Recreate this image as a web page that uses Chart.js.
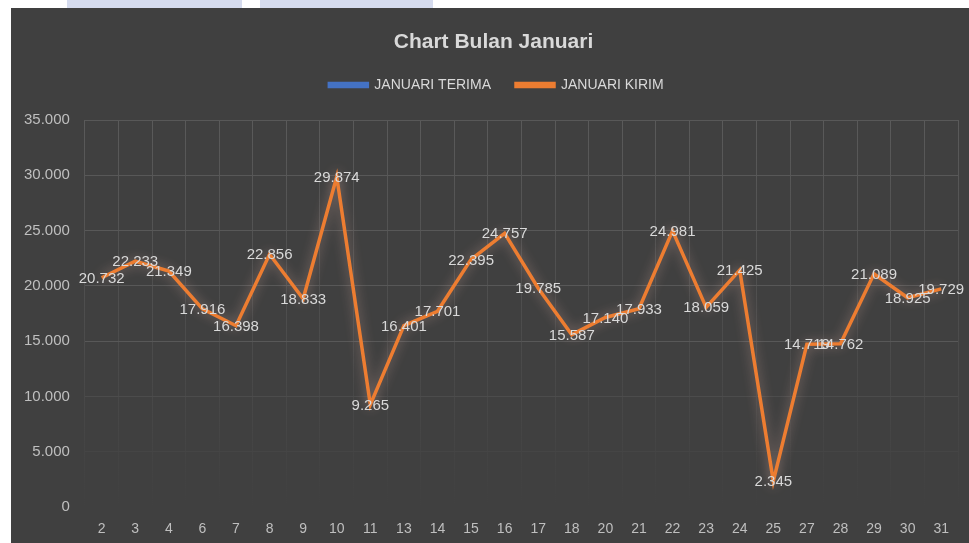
<!DOCTYPE html>
<html>
<head>
<meta charset="utf-8">
<script src="https://cdn.jsdelivr.net/npm/chart.js@4.4.1/dist/chart.umd.min.js"></script>
<style>
  html, body { margin: 0; padding: 0; background: #ffffff; width: 969px; height: 543px; overflow: hidden; }
  .wm { position: absolute; top: 0; height: 8px; background: #d5dbee; }
  #box { position: absolute; left: 11px; top: 8px; width: 958px; height: 535px; background: #404040; overflow: hidden; }
  #c { position: absolute; left: -2px; top: 0; }
</style>
</head>
<body>
<div class="wm" style="left:67px;width:175px;"></div>
<div class="wm" style="left:260px;width:173px;"></div>
<div id="box"><canvas id="c" width="960" height="535"></canvas></div>
<script>
const days = ['2','3','4','6','7','8','9','10','11','13','14','15','16','17','18','20','21','22','23','24','25','27','28','29','30','31'];
const terima = days.map(() => null);
const kirim = [20732,22233,21349,17916,16398,22856,18833,29874,9265,16401,17701,22395,24757,19785,15587,17140,17933,24981,18059,21425,2345,14719,14762,21089,18925,19729];
const yTicks = [0,5000,10000,15000,20000,25000,30000,35000];

function fmt(v) {
  const s = String(Math.round(v));
  return s.replace(/\B(?=(\d{3})+(?!\d))/g, '.');
}

const glow = {
  id: 'glow',
  beforeDatasetDraw(chart, args) {
    const c = chart.ctx;
    c.save();
    c.shadowColor = 'rgba(255,200,185,0.45)';
    c.shadowBlur = 12;
  },
  afterDatasetDraw(chart, args) {
    chart.ctx.restore();
  }
};

const labelsPlugin = {
  id: 'valueLabels',
  afterDatasetsDraw(chart) {
    const c = chart.ctx;
    c.save();
    c.font = '15px "Liberation Sans", Arial, sans-serif';
    c.fillStyle = '#d9d9d9';
    c.textAlign = 'center';
    c.textBaseline = 'middle';
    chart.data.datasets.forEach((ds, di) => {
      const meta = chart.getDatasetMeta(di);
      meta.data.forEach((pt, i) => {
        const v = ds.data[i];
        if (v === null || v === undefined) return;
        c.fillText(fmt(v), pt.x, pt.y + 1);
      });
    });
    c.restore();
  }
};

// The original chart's header is centred on a slightly wider frame
const headerShift = {
  id: 'headerShift',
  afterLayout(chart) {
    if (chart.titleBlock) { chart.titleBlock.left += 10; chart.titleBlock.right += 10; }
    if (chart.legend) { chart.legend.left += 13; chart.legend.right += 13; }
  }
};

function xGridColor(ctx) {
  const ca = ctx.chart.chartArea;
  if (!ca) return '#555555';
  const g = ctx.chart.ctx.createLinearGradient(0, ca.top, 0, ca.bottom);
  g.addColorStop(0, '#5a5a5a');
  g.addColorStop(0.55, '#4c4c4c');
  g.addColorStop(1, '#404040');
  return g;
}
function yGridColor(ctx) {
  const v = ctx.tick ? ctx.tick.value : 0;
  if (v >= 15000) return '#585858';
  if (v >= 10000) return '#4c4c4c';
  if (v >= 5000) return '#454545';
  return 'rgba(0,0,0,0)';
}

new Chart(document.getElementById('c'), {
  type: 'line',
  data: {
    labels: days,
    datasets: [
      { label: 'JANUARI TERIMA', data: terima, borderColor: '#4472C4', backgroundColor: '#4472C4', borderWidth: 3.5, pointRadius: 0, tension: 0 },
      { label: 'JANUARI KIRIM', data: kirim, borderColor: '#ED7D31', backgroundColor: '#ED7D31', borderWidth: 3.5, pointRadius: 0, tension: 0 }
    ]
  },
  options: {
    responsive: false,
    animation: false,
    layout: { padding: { left: 0, right: 11, top: 10, bottom: 0 } },
    plugins: {
      title: {
        display: true,
        text: 'Chart Bulan Januari',
        color: '#d9d9d9',
        font: { family: '"Liberation Sans", Arial, sans-serif', size: 21, weight: 'bold', lineHeight: 1.05 },
        padding: { top: 13, bottom: 0 }
      },
      subtitle: {
        display: true,
        text: ' ',
        weight: 500,
        font: { size: 10 },
        padding: { top: 0, bottom: 6 }
      },
      legend: {
        display: true,
        position: 'top',
        labels: {
          color: '#d9d9d9',
          font: { family: '"Liberation Sans", Arial, sans-serif', size: 14 },
          boxWidth: 38,
          boxHeight: 3,
          padding: 25
        }
      },
      tooltip: { enabled: false }
    },
    scales: {
      x: {
        offset: true,
        grid: { offset: true, color: xGridColor, lineWidth: 1, drawTicks: false },
        border: { display: false },
        afterFit(scale) { scale.height = 36; },
        ticks: { color: '#bfbfbf', font: { family: '"Liberation Sans", Arial, sans-serif', size: 14, lineHeight: 1 }, padding: 15, maxRotation: 0, autoSkip: false }
      },
      y: {
        min: 0,
        max: 35000,
        afterBuildTicks(scale) { scale.ticks = yTicks.map(v => ({ value: v })); },
        grid: { color: yGridColor, lineWidth: 1, drawTicks: false },
        border: { display: false },
        ticks: { color: '#bfbfbf', font: { family: '"Liberation Sans", Arial, sans-serif', size: 15 }, padding: 15, callback: v => fmt(v) }
      }
    }
  },
  plugins: [glow, labelsPlugin, headerShift]
});
</script>
</body>
</html>
